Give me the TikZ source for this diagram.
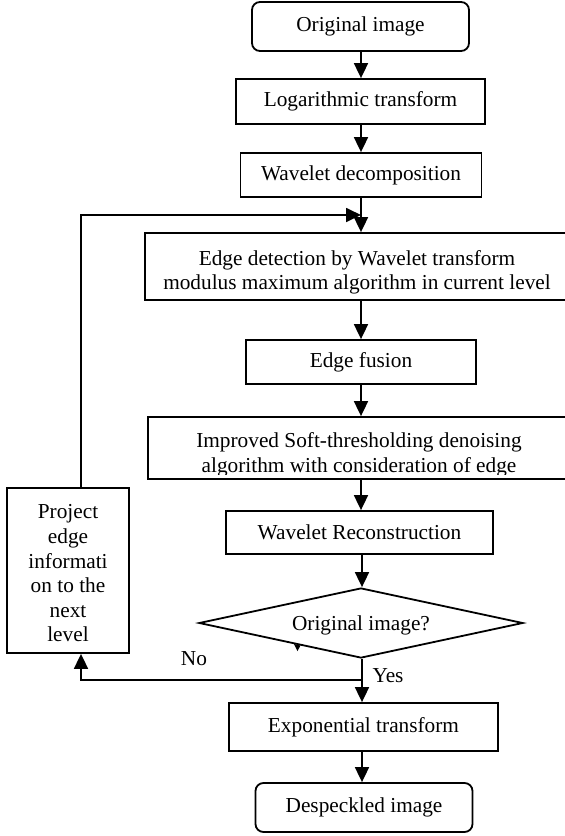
\documentclass[tikz,border=0pt]{standalone}
\usepackage{fontspec}
\setmainfont{Liberation Serif}
\usetikzlibrary{arrows.meta,shapes.geometric}
\begin{document}
\begin{tikzpicture}[x=1pt,y=-1pt,
  every node/.style={font=\fontsize{21.3}{24.6}\selectfont, inner sep=0pt},
  box/.style={draw, line width=1.8pt, rectangle},
  rbox/.style={box, rounded corners=8pt},
  flow/.style={line width=1.8pt, -{Triangle[length=15pt,width=14pt]}},
]
\useasboundingbox (0,0) rectangle (565,836);

% main column
\node[rbox, minimum width=217pt, minimum height=49pt] (orig) at (360.5,26.5) {Original image};
\node[box, minimum width=249pt, minimum height=45pt] (log) at (360.5,101.5) {Logarithmic transform};
\node[box, minimum width=241pt, minimum height=44pt] (wdec) at (361,175) {Wavelet decomposition};

\node[box, minimum width=423pt, minimum height=67pt] (edge) at (356.5,266.5) {};
\node[anchor=base] (edgeA) at (357,265) {Edge detection by Wavelet transform};
\node[anchor=base] (edgeB) at (357,289.6) {modulus maximum algorithm in current level};

\node[box, minimum width=230pt, minimum height=44pt] (fus) at (361,362) {Edge fusion};

\node[box, minimum width=420pt, minimum height=62pt] (imp) at (358,448) {};
\begin{scope}
  \clip (148,417) rectangle (568,474.5);
  \node[anchor=base] (impA) at (359,447.5) {Improved Soft-thresholding denoising};
  \node[anchor=base] (impB) at (359,472) {algorithm with consideration of edge};
\end{scope}

\node[box, minimum width=267pt, minimum height=43pt] (wrec) at (359.5,532.5) {Wavelet Reconstruction};

\node[draw, line width=1.8pt, diamond, minimum width=324pt, minimum height=70pt] (dec) at (361,623) {};
\node[anchor=base] (decT) at (361,630) {Original image?};

\node[box, minimum width=269pt, minimum height=48pt] (exp) at (363.5,727) {Exponential transform};
\node[rbox, minimum width=217pt, minimum height=49pt] (desp) at (364,807.5) {Despeckled image};

% side box
\node[box, minimum width=122pt, minimum height=165pt] (proj) at (68,570.5) {};
\node[align=center] (projT) at (68,573.5) {Project\\edge\\informati\\on to the\\next\\level};

% labels
\node[anchor=base] (no) at (194,665) {No};
\node[anchor=base] (yes) at (388,682) {Yes};

% helper coordinates
\coordinate (cA) at (361,0);
\coordinate (cB) at (362,0);
\coordinate (loopL) at (81,215);
\coordinate (loopR) at (361,215);
\coordinate (br) at (362,680);

% connectors
\draw[flow] (orig.south -| cA) -- (log.north -| cA);
\draw[flow] (log.south -| cA) -- (wdec.north -| cA);
\draw[flow] (wdec.south -| cA) -- (edge.north -| cA);
\draw[flow] (edge.south -| cA) -- (fus.north -| cA);
\draw[flow] (fus.south -| cA) -- (imp.north -| cA);
\draw[flow] (imp.south -| cA) -- (wrec.north -| cA);
\draw[flow] (wrec.south -| cB) -- (dec.north -| cB);
\draw[flow] (dec.south -| cB) -- (exp.north -| cB);
\draw[flow] (exp.south -| cB) -- (desp.north -| cB);
\draw[flow] (proj.north -| loopL) -- (loopL) -- (loopR);
\draw[flow] (br) -- (br -| loopL) -- (proj.south -| loopL);

% small stray tick under the decision
\fill (294,644) -- (300.5,645.5) -- (297.5,651) -- cycle;
\end{tikzpicture}
\end{document}
